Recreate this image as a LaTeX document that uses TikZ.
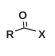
\documentclass[tikz,border=0pt]{standalone}
\usepackage{fontspec}
\setmainfont{Liberation Sans}
\usetikzlibrary{calc}
\begin{document}
\begin{tikzpicture}[x=1pt,y=-1pt,
  atom/.style={font=\fontsize{11}{11}\selectfont\bfseries, inner sep=0pt, text=black!85},
  bond/.style={line width=1pt, black!80}]
\useasboundingbox (0,0) rectangle (54,56);
\node[atom] (O) at (23,16) {O};
\node[atom] (R) at (10,35) {R};
\node[atom] (X) at (42,35) {X};
\coordinate (C) at (24,28);
\draw[bond] ($(R.north east)+(1,0)$) -- (C);
\draw[bond] (C) -- ($(X.north west)+(-2,0)$);
\draw[bond] (C) -- ($(O.south)+(0.3,1.5)$);
\draw[bond] ($(C)+(2.8,-1.5)$) -- ($(O.south)+(3.1,1.5)$);
\end{tikzpicture}
\end{document}
